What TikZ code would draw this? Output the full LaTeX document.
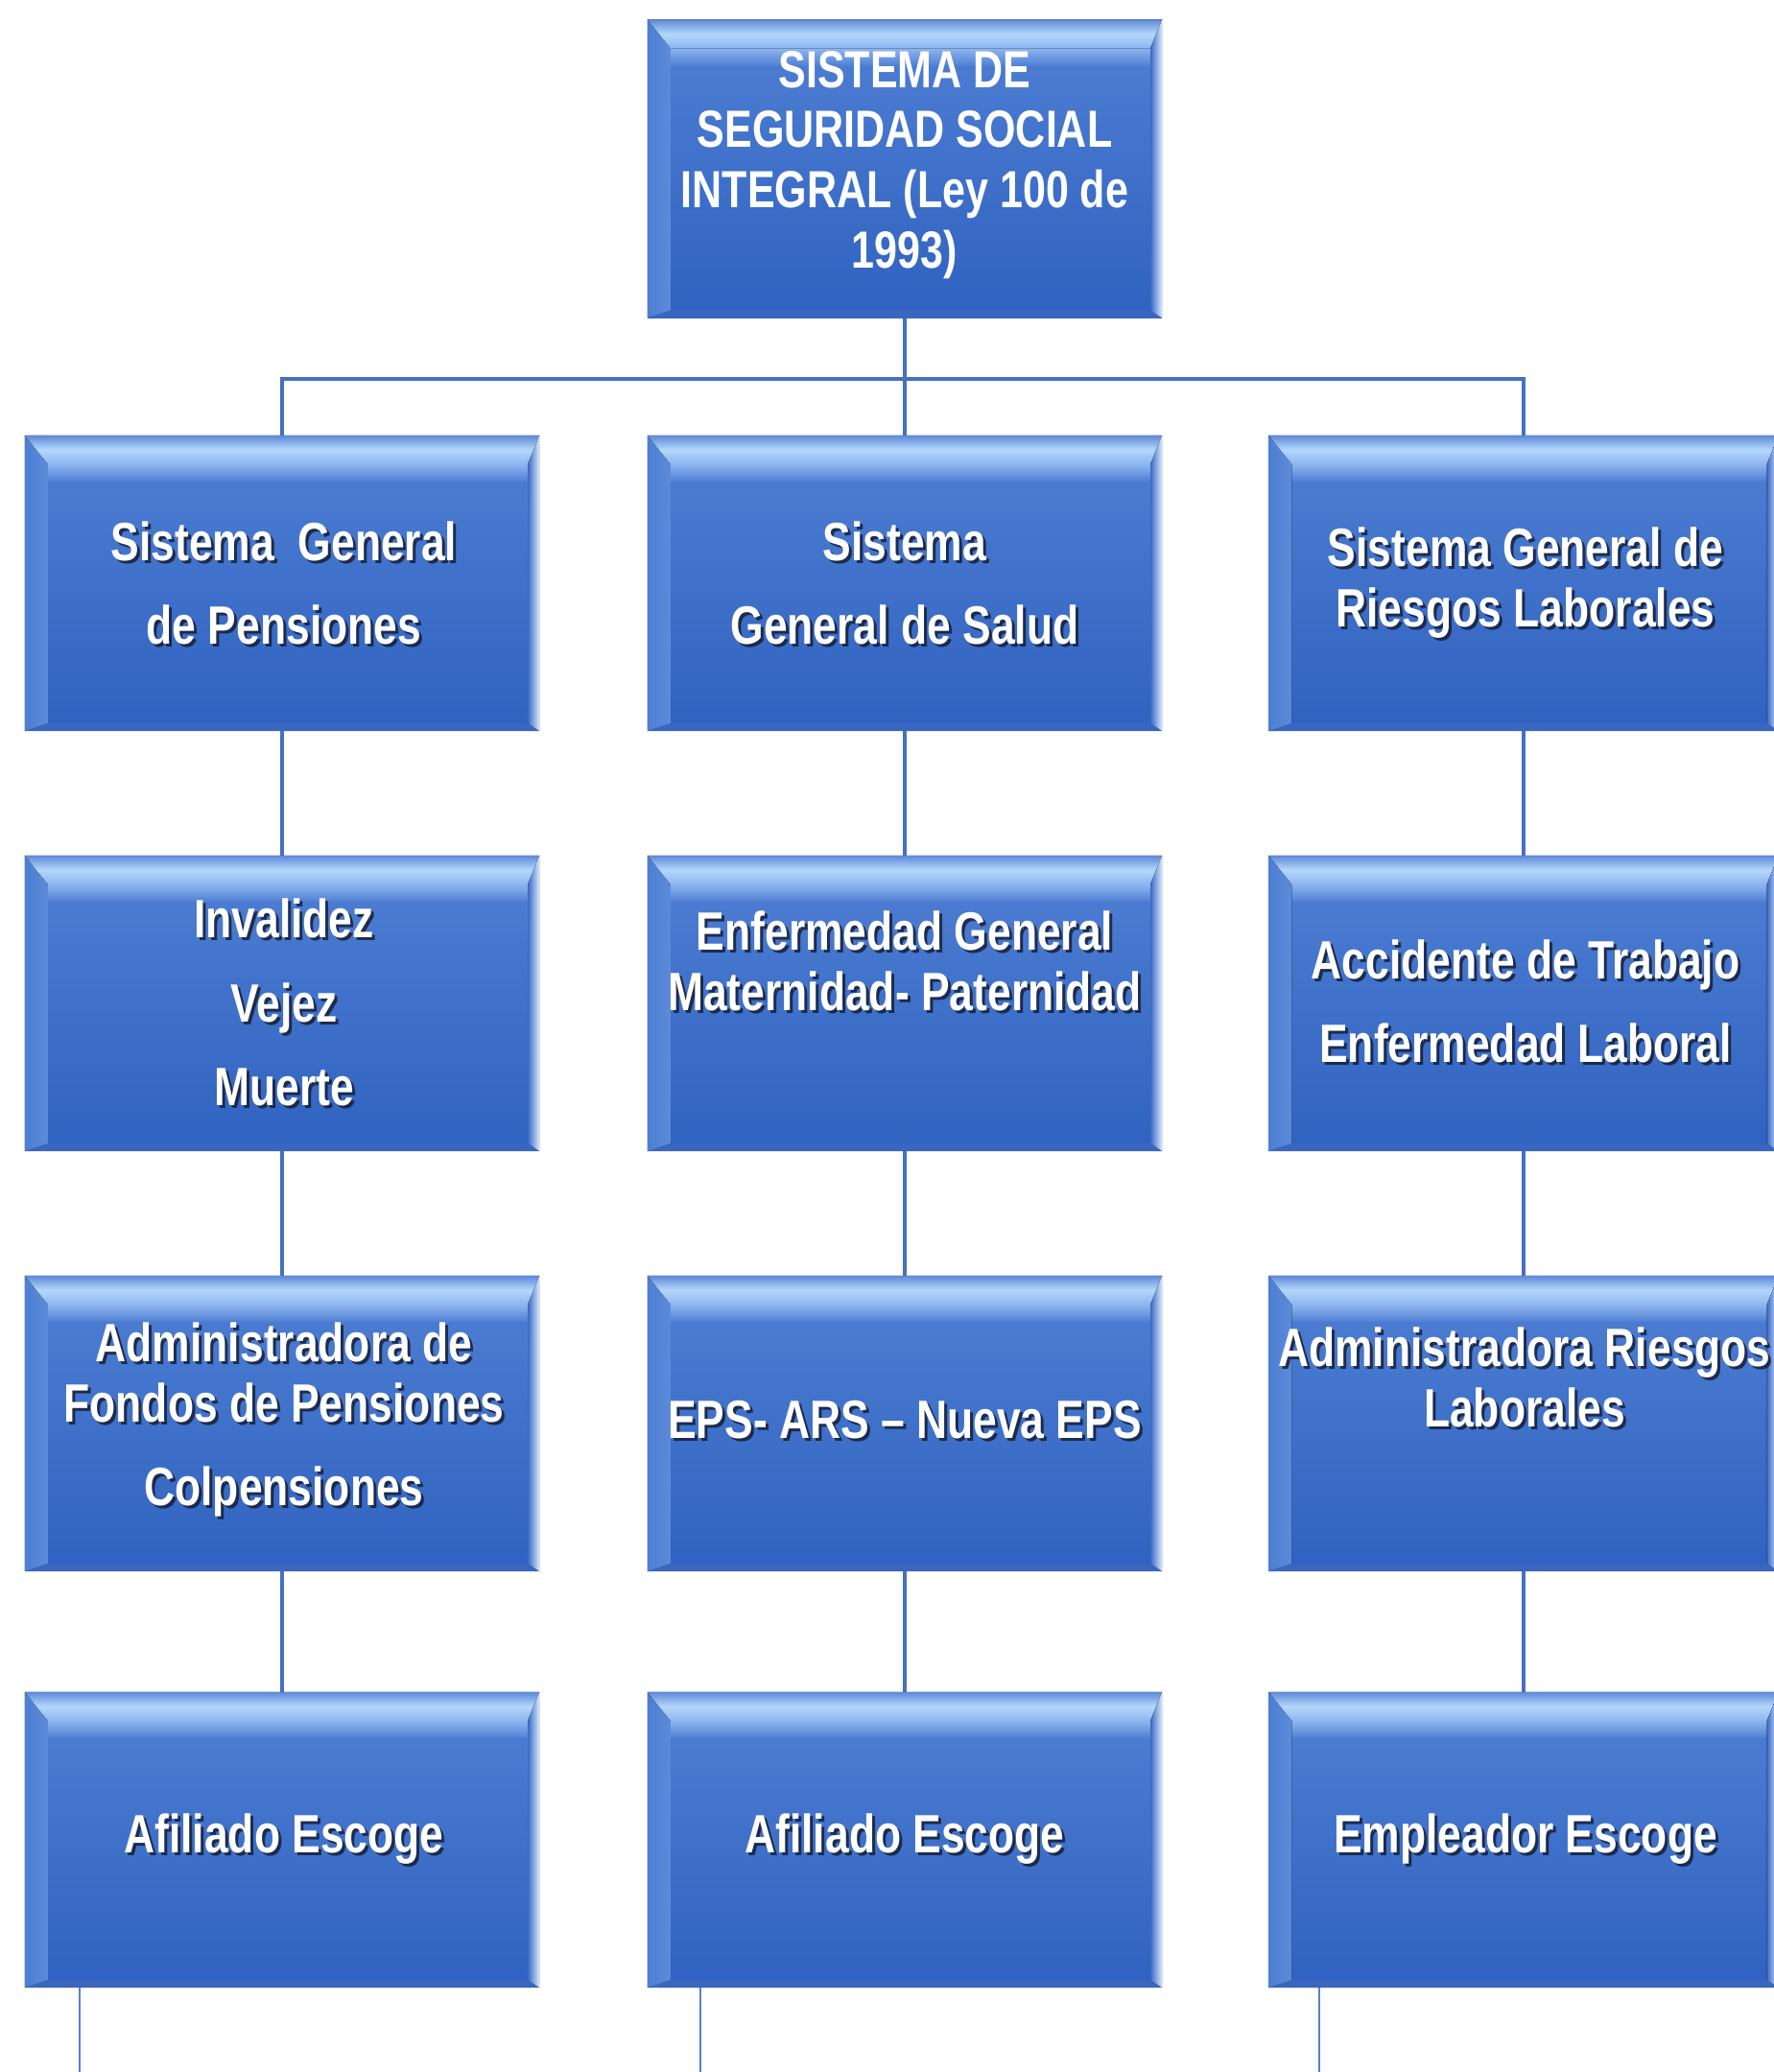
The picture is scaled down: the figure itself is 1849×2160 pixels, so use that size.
\documentclass[tikz,border=0pt]{standalone}
\usepackage{fontspec}
\setmainfont{Liberation Sans}[FakeStretch=0.79]
\definecolor{bodytop}{HTML}{5080D4}
\definecolor{bodybot}{HTML}{2F62C0}
\definecolor{bevtopout}{HTML}{5E89D7}
\definecolor{bevtopin}{HTML}{B3D7FB}
\definecolor{bevtopfade}{HTML}{8DB5EE}
\definecolor{bevleftout}{HTML}{4D7ED2}
\definecolor{bevleftin}{HTML}{5C8BD9}
\definecolor{bevrightin}{HTML}{3E6BC4}
\definecolor{bevrightout}{HTML}{D6EBFF}
\definecolor{bevbot}{HTML}{3A66C0}
\definecolor{linkblue}{HTML}{4670C0}
\definecolor{tailblue}{HTML}{5580CC}
\definecolor{shadowcol}{HTML}{141A2E}
\tikzset{
  boxnode/.style={rectangle, inner sep=0pt, draw=none, minimum width=53.5mm, minimum height=30.7mm,
    top color=bodytop, bottom color=bodybot},
  txt/.style={text=white, align=center, inner sep=0pt,
    font=\fontsize{16}{17.9}\selectfont\bfseries},
  toptxt/.style={txt, font=\fontsize{15.5}{17.9}\selectfont\bfseries},
  shd/.style={txt, text=shadowcol, text opacity=0.8},
  link/.style={draw=linkblue, line width=0.4mm},
  tail/.style={draw=tailblue, line width=0.25mm},
}
\newcommand\bevel[1]{%
  \fill[top color=bevtopfade, bottom color=bodytop]
    ([shift={(24,30)}]#1.north west) rectangle ([shift={(-12,48)}]#1.north east);
  \fill[left color=bevleftout, right color=bevleftin]
    (#1.north west) -- ([shift={(24,30)}]#1.north west)
    -- ([shift={(24,-8)}]#1.south west) -- (#1.south west) -- cycle;
  \fill[top color=bevtopout, bottom color=bevtopfade, middle color=bevtopin]
    (#1.north west) -- (#1.north east) -- ([shift={(-12,30)}]#1.north east)
    -- ([shift={(24,30)}]#1.north west) -- cycle;
  \fill[left color=bevrightin, right color=bevrightout]
    (#1.north east) -- ([shift={(-12,30)}]#1.north east)
    -- ([shift={(-12,-8)}]#1.south east) -- (#1.south east) -- cycle;
  \fill[bevbot]
    (#1.south west) -- ([shift={(24,-8)}]#1.south west)
    -- ([shift={(-12,-8)}]#1.south east) -- (#1.south east) -- cycle;
}
\newcommand\boxtext[4]{%
  \node[shd] (#1s) at ([shift={(3,3)}]#2,#3) {#4};
  \node[txt] (#1) at (#2,#3) {#4};
}
\begin{document}
\begin{tikzpicture}[x=0.1mm,y=-0.1mm]
\useasboundingbox (0,0) rectangle (1849,2160);
\clip (0,0) rectangle (1849,2160);
\fill[white] (0,0) rectangle (1849,2160);

% bus coordinate and free ends
\coordinate (bus) at (943,395);
\coordinate (e1) at (83,2160);
\coordinate (e2) at (730,2160);
\coordinate (e3) at (1375,2160);

% boxes
\node[boxnode, minimum height=31mm] (top) at (943,176) {};
\node[boxnode] (r1l) at (294,608) {};
\node[boxnode] (r1c) at (943,608) {};
\node[boxnode, minimum width=53mm] (r1r) at (1588,608) {};
\node[boxnode] (r2l) at (294,1046) {};
\node[boxnode] (r2c) at (943,1046) {};
\node[boxnode, minimum width=53mm] (r2r) at (1588,1046) {};
\node[boxnode] (r3l) at (294,1484) {};
\node[boxnode] (r3c) at (943,1484) {};
\node[boxnode, minimum width=53mm] (r3r) at (1588,1484) {};
\node[boxnode] (r4l) at (294,1918) {};
\node[boxnode] (r4c) at (943,1918) {};
\node[boxnode, minimum width=53mm] (r4r) at (1588,1918) {};

\foreach \b in {top,r1l,r1c,r1r,r2l,r2c,r2r,r3l,r3c,r3r,r4l,r4c,r4r}{\bevel{\b}}

% connectors
\draw[link] (top.south) -- (r1c.north);
\draw[link] (r1l.north) |- (bus) -| (r1r.north);
\draw[link] (r1l.south) -- (r2l.north);
\draw[link] (r1c.south) -- (r2c.north);
\draw[link] (r1r.south) -- (r2r.north);
\draw[link] (r2l.south) -- (r3l.north);
\draw[link] (r2c.south) -- (r3c.north);
\draw[link] (r2r.south) -- (r3r.north);
\draw[link] (r3l.south) -- (r4l.north);
\draw[link] (r3c.south) -- (r4c.north);
\draw[link] (r3r.south) -- (r4r.north);
\draw[tail] (e1 |- r4l.south) -- (e1);
\draw[tail] (e2 |- r4c.south) -- (e2);
\draw[tail] (e3 |- r4r.south) -- (e3);

% texts
\node[toptxt] (ttop) at (943,172) {SISTEMA DE\\SEGURIDAD SOCIAL\\INTEGRAL (Ley 100 de\\1993)};
\boxtext{t1l}{296}{608}{Sistema\ \ General\\[6.9pt]de Pensiones}
\boxtext{t1c}{943}{608}{Sistema\\[6.9pt]General de Salud}
\boxtext{t1r}{1590}{608}{Sistema General de\\Riesgos Laborales}
\boxtext{t2l}{296}{1045}{Invalidez\\[6.9pt]Vejez\\[6.9pt]Muerte}
\boxtext{t2c}{943}{1002}{Enfermedad General\\Maternidad- Paternidad}
\boxtext{t2r}{1590}{1044}{Accidente de Trabajo\\[6.9pt]Enfermedad Laboral}
\boxtext{t3l}{296}{1480}{Administradora de\\Fondos de Pensiones\\[6.9pt]Colpensiones}
\boxtext{t3c}{943}{1480}{EPS- ARS -- Nueva EPS}
\boxtext{t3r}{1589}{1436}{Administradora Riesgos\\Laborales}
\boxtext{t4l}{296}{1917}{Afiliado Escoge}
\boxtext{t4c}{943}{1917}{Afiliado Escoge}
\boxtext{t4r}{1590}{1917}{Empleador Escoge}
\end{tikzpicture}
\end{document}
